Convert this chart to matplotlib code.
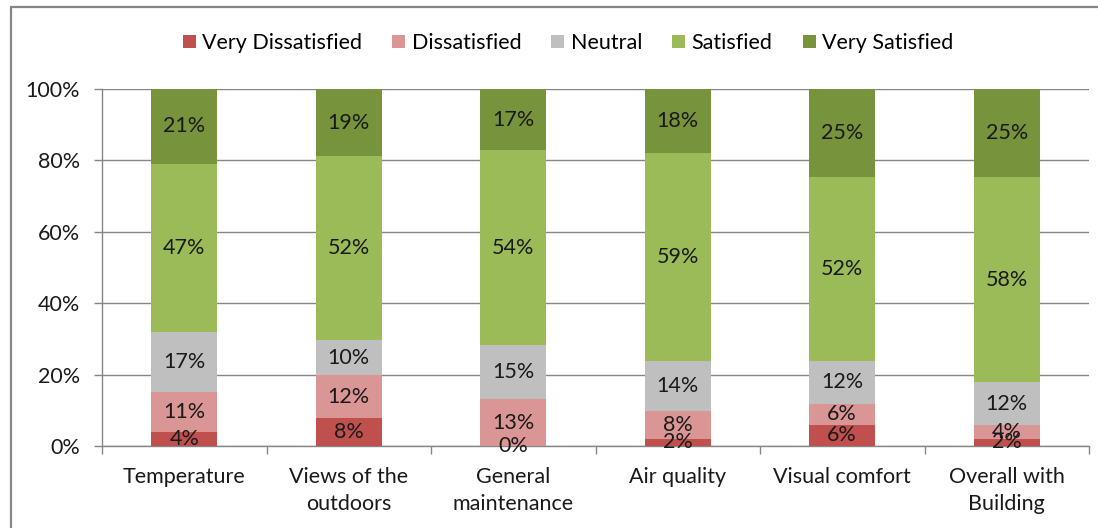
import matplotlib
matplotlib.use("Agg")
import matplotlib.pyplot as plt
import numpy as np
from matplotlib.patches import Rectangle

plt.rcParams['font.family'] = ['Lato', 'DejaVu Sans']

categories = ["Temperature", "Views of the\noutdoors", "General\nmaintenance",
              "Air quality", "Visual comfort", "Overall with\nBuilding"]
series_names = ["Very Dissatisfied", "Dissatisfied", "Neutral", "Satisfied", "Very Satisfied"]
very_dissatisfied = [4, 8, 0, 2, 6, 2]
dissatisfied = [11, 12, 13, 8, 6, 4]
neutral = [17, 10, 15, 14, 12, 12]
satisfied = [47, 52, 54, 59, 52, 58]
very_satisfied = [21, 19, 17, 18, 25, 25]
y_ticks = [0, 20, 40, 60, 80, 100]
y_tick_labels = ["0%", "20%", "40%", "60%", "80%", "100%"]

colors = ["#C0504D", "#DA9694", "#BFBFBF", "#9BBB59", "#77933C"]
axis_gray = "#868686"
txt = "#1a1a1a"
FS = 15.5

series = [very_dissatisfied, dissatisfied, neutral, satisfied, very_satisfied]
data = np.array(series, dtype=float)
totals = data.sum(axis=0)
shares = data / totals * 100

fig = plt.figure(figsize=(10.98, 5.28), dpi=100)
W, H = 1098, 528
ax = fig.add_axes([102 / W, 1 - 446 / H, (1089 - 102) / W, (446 - 89) / H])

x = np.arange(len(categories))
bottom = np.zeros(len(categories))
handles = []
for i, name in enumerate(series_names):
    b = ax.bar(x, shares[i], 0.4, bottom=bottom, color=colors[i], label=name,
               linewidth=0, zorder=3)
    handles.append(b)
    for j in range(len(categories)):
        ax.text(x[j], bottom[j] + shares[i][j] / 2, f"{series[i][j]:.0f}%",
                ha="center", va="center", fontsize=FS, color=txt, zorder=4)
    bottom += shares[i]

ax.set_xlim(-0.5, len(categories) - 0.5)
ax.set_ylim(0, 100)
ax.set_yticks(y_ticks)
ax.set_yticklabels(y_tick_labels, fontsize=FS, color=txt)
ax.yaxis.grid(True, color=axis_gray, linewidth=1, zorder=0)
ax.set_axisbelow(True)

ax.set_xticks(x)
ax.set_xticklabels(categories, fontsize=FS, color=txt, linespacing=1.45)
ax.set_xticks(np.arange(-0.5, len(categories)), minor=True)
ax.tick_params(axis="x", which="major", length=0, pad=15)
ax.tick_params(axis="x", which="minor", length=6, color=axis_gray, width=1)
ax.tick_params(axis="y", length=6, color=axis_gray, width=1, pad=10)

for s in ["top", "right"]:
    ax.spines[s].set_visible(False)
for s in ["left", "bottom"]:
    ax.spines[s].set_color(axis_gray)
    ax.spines[s].set_linewidth(1)

fig.legend(handles=handles, labels=series_names, loc="center",
           bbox_to_anchor=(568 / W, 1 - 43 / H), ncol=5, frameon=False,
           fontsize=FS, handlelength=0.6, handleheight=0.6,
           handletextpad=0.3, columnspacing=1.4)

fig.patches.append(Rectangle((11 / W, -0.05), 1.2, 1 - 7 / H + 0.05,
                             transform=fig.transFigure, fill=False,
                             edgecolor=axis_gray, linewidth=1.6))

fig.savefig("out.png", dpi=100)
